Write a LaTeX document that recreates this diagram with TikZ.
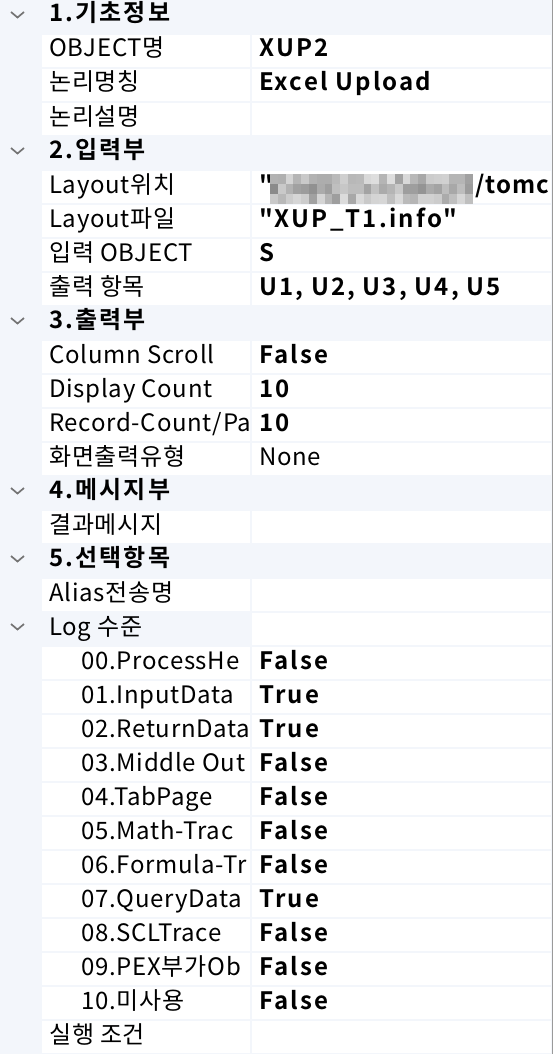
\documentclass[tikz,border=0pt]{standalone}
\usepackage{fontspec}
\setmainfont{Noto Sans CJK KR}[LetterSpace=3,BoldFont={Noto Sans CJK KR Bold}]
\newfontfamily\valfont{Noto Sans CJK KR}[LetterSpace=9,BoldFont={Noto Sans CJK KR Bold}]
\newfontfamily\tightfont{Noto Sans CJK KR}[LetterSpace=4,BoldFont={Noto Sans CJK KR Bold}]
\definecolor{gridbg}{HTML}{F3F6FB}
\definecolor{chevc}{HTML}{747474}
\definecolor{edgec}{HTML}{9A9A9A}
\begin{document}
\begin{tikzpicture}[x=1pt,y=-1pt,
  nm/.style={anchor=base west, inner sep=0pt, font=\fontsize{24}{24}\selectfont},
  cat/.style={anchor=base west, inner sep=0pt, font=\valfont\bfseries\fontsize{24}{24}\selectfont},
  val/.style={anchor=base west, inner sep=0pt, font=\valfont\bfseries\fontsize{24}{24}\selectfont},
  valt/.style={anchor=base west, inner sep=0pt, font=\tightfont\bfseries\fontsize{24}{24}\selectfont},
  valr/.style={anchor=base west, inner sep=0pt, font=\fontsize{24}{24}\selectfont},
  chev/.style={draw=chevc, line width=1.7pt},
]
\useasboundingbox (0,0) rectangle (553,1054);
\fill[gridbg] (0,0) rectangle (553,1054);
\draw[edgec, line width=1.2pt] (552.4,0) -- (552.4,1054);
% white cells of property rows
\foreach \i in {1,2,3,5,6,7,8,10,11,12,13,15,17,19,20,21,22,23,24,25,26,27,28,29,30}{
  \fill[white] (42,34*\i+1) rectangle (250,34*\i+33);
  \fill[white] (252,34*\i+1) rectangle (551,34*\i+33);
}
\fill[white] (252,34*18+1) rectangle (551,34*18+33);
% chevrons
\foreach \i in {0,4,9,14,16,18}{
  \draw[chev] (11,34*\i+12) -- (17.5,34*\i+17.5) -- (24,34*\i+12);
}
% category rows
\node[cat] (c1) at (49,22) {1.기초정보};
\node[cat] (c2) at (49,158) {2.입력부};
\node[cat] (c3) at (49,328) {3.출력부};
\node[cat] (c4) at (49,498) {4.메시지부};
\node[cat] (c5) at (49,566) {5.선택항목};
% names (clipped to the name column)
\begin{scope}
\clip (42,0) rectangle (250,1054);
\node[nm] (n1) at (49,57) {OBJECT명};
\node[nm] (n2) at (49,91) {논리명칭};
\node[nm] (n3) at (49,125) {논리설명};
\node[nm] (n5) at (49,193) {Layout위치};
\node[nm] (n6) at (49,227) {Layout파일};
\node[nm] (n7) at (49,261) {입력 OBJECT};
\node[nm] (n8) at (49,295) {출력 항목};
\node[nm] (n10) at (49,363) {Column Scroll};
\node[nm] (n11) at (49,397) {Display Count};
\node[nm] (n12) at (49,431) {Record-Count/Pa};
\node[nm] (n13) at (49,465) {화면출력유형};
\node[nm] (n15) at (49,533) {결과메시지};
\node[nm] (n17) at (49,601) {Alias전송명};
\node[nm] (n18) at (49,635) {Log 수준};
\node[nm] (n19) at (81,669) {00.ProcessHe};
\node[nm] (n20) at (81,703) {01.InputData};
\node[nm] (n21) at (81,737) {02.ReturnData};
\node[nm] (n22) at (81,771) {03.Middle Out};
\node[nm] (n23) at (81,805) {04.TabPage};
\node[nm] (n24) at (81,839) {05.Math-Trac};
\node[nm] (n25) at (81,873) {06.Formula-Tr};
\node[nm] (n26) at (81,907) {07.QueryData};
\node[nm] (n27) at (81,941) {08.SCLTrace};
\node[nm] (n28) at (81,975) {09.PEX부가Ob};
\node[nm] (n29) at (81,1009) {10.미사용};
\node[nm] (n30) at (49,1043) {실행 조건};
\end{scope}
% values
\node[val] (v1) at (259,57) {XUP2};
\node[val] (v2) at (259,91) {Excel Upload};
\node[val] (v5q) at (259,193) {"};
\pgfmathsetseed{11}
\foreach \k in {0,...,25}{
  \foreach \j in {0,1,2}{
    \pgfmathsetmacro\g{int(12+28*rnd+8*(\j==1))}
    \fill[black!\g] (270+7.8*\k,174+10*\j) rectangle ++(7.8,10);
  }
}
\node[valt] (v5) at (475,193) {/tomc};
\node[val] (v6) at (259,227) {"XUP\_T1.info"};
\node[val] (v7) at (259,261) {S};
\node[val] (v8) at (259,295) {U1, U2, U3, U4, U5};
\node[val] (v10) at (259,363) {False};
\node[val] (v11) at (259,397) {10};
\node[val] (v12) at (259,431) {10};
\node[valr] (v13) at (259,465) {None};
\node[val] (v19) at (259,669) {False};
\node[val] (v20) at (259,703) {True};
\node[val] (v21) at (259,737) {True};
\node[val] (v22) at (259,771) {False};
\node[val] (v23) at (259,805) {False};
\node[val] (v24) at (259,839) {False};
\node[val] (v25) at (259,873) {False};
\node[val] (v26) at (259,907) {True};
\node[val] (v27) at (259,941) {False};
\node[val] (v28) at (259,975) {False};
\node[val] (v29) at (259,1009) {False};
\end{tikzpicture}
\end{document}
